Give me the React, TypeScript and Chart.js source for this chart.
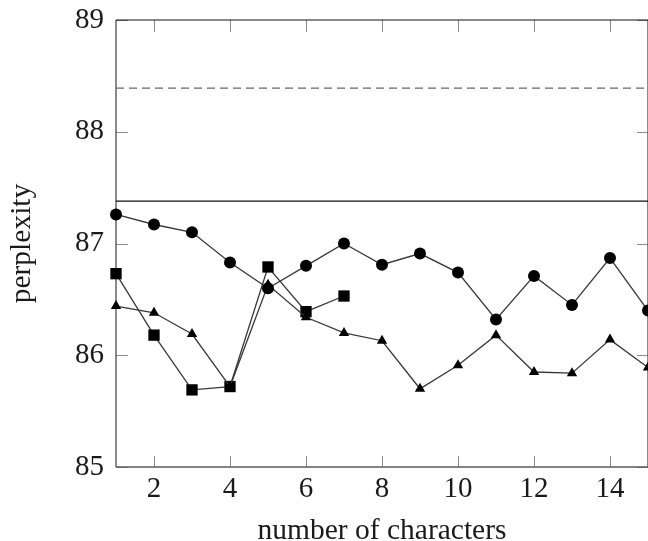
import React, { useEffect, useRef } from 'react';
import { Chart, registerables } from 'chart.js';

Chart.register(...registerables);

// ---- data ----
const characters = [1, 2, 3, 4, 5, 6, 7, 8, 9, 10, 11, 12, 13, 14, 15];
const circleSeries = [87.26, 87.17, 87.10, 86.83, 86.60, 86.80, 87.00, 86.81, 86.91, 86.74, 86.32, 86.71, 86.45, 86.87, 86.40];
const triangleSeries = [86.44, 86.38, 86.19, 85.72, 86.63, 86.34, 86.20, 86.13, 85.70, 85.91, 86.18, 85.85, 85.84, 86.14, 85.89];
const squareCharacters = [1, 2, 3, 4, 5, 6, 7];
const squareSeries = [86.73, 86.18, 85.69, 85.72, 86.79, 86.39, 86.53];
const solidBaseline = 87.38;
const dashedBaseline = 88.39;
const xRange = [1, 15];
const yRange = [85, 89];
const xTickValues = [2, 4, 6, 8, 10, 12, 14];
const yTickValues = [85, 86, 87, 88, 89];
const xTitle = 'number of characters';
const yTitle = 'perplexity';

const FONT = '"Liberation Serif", "Times New Roman", "DejaVu Serif", serif';
const CANVAS_W = 648;
const CANVAS_H = 560;

const framePlugin = {
  id: 'pgfFrame',
  beforeDatasetsDraw(chart: any) {
    const { ctx, chartArea, scales } = chart;
    const { left, right, top, bottom } = chartArea;
    const x = scales.x;
    const y = scales.y;
    const line = (x1: number, y1: number, x2: number, y2: number) => {
      ctx.beginPath();
      ctx.moveTo(x1, y1);
      ctx.lineTo(x2, y2);
      ctx.stroke();
    };
    ctx.save();
    ctx.strokeStyle = '#8c8c8c';
    ctx.lineWidth = 1;
    xTickValues.forEach((v) => {
      const px = Math.round(x.getPixelForValue(v)) + 0.5;
      line(px, bottom, px, bottom - 11);
      line(px, top, px, top + 12);
    });
    yTickValues.forEach((v) => {
      const py = Math.round(y.getPixelForValue(v)) + 0.5;
      line(left, py, left + 12, py);
      line(right, py, right - 11, py);
    });
    ctx.strokeStyle = '#5a5a5a';
    ctx.lineWidth = 1.4;
    line(left, top, left, bottom);
    line(left, bottom, right, bottom);
    line(right, top, right, bottom);
    ctx.strokeStyle = '#111';
    ctx.lineWidth = 1.2;
    line(left, top, right, top);
    ctx.restore();
  },
};

export default function App() {
  const canvasRef = useRef<HTMLCanvasElement | null>(null);

  useEffect(() => {
    if (!canvasRef.current) return;
    const lineColor = '#383838';
    const markerColor = '#000';
    const chart = new Chart(canvasRef.current, {
      type: 'line',
      data: {
        datasets: [
          {
            label: 'circles',
            data: characters.map((c, i) => ({ x: c, y: circleSeries[i] })),
            borderColor: lineColor,
            borderWidth: 1.3,
            pointStyle: 'circle',
            pointRadius: 6,
            pointBackgroundColor: markerColor,
            pointBorderColor: markerColor,
            pointBorderWidth: 0,
            tension: 0,
            clip: false,
          },
          {
            label: 'triangles',
            data: characters.map((c, i) => ({ x: c, y: triangleSeries[i] })),
            borderColor: lineColor,
            borderWidth: 1.3,
            pointStyle: 'triangle',
            pointRadius: 6,
            pointBackgroundColor: markerColor,
            pointBorderColor: markerColor,
            pointBorderWidth: 0,
            tension: 0,
            clip: false,
          },
          {
            label: 'squares',
            data: squareCharacters.map((c, i) => ({ x: c, y: squareSeries[i] })),
            borderColor: lineColor,
            borderWidth: 1.3,
            pointStyle: 'rect',
            pointRadius: 8,
            pointBackgroundColor: markerColor,
            pointBorderColor: markerColor,
            pointBorderWidth: 0,
            tension: 0,
            clip: false,
          },
          {
            label: 'solid baseline',
            data: [
              { x: xRange[0], y: solidBaseline },
              { x: xRange[1], y: solidBaseline },
            ],
            borderColor: '#111',
            borderWidth: 1.2,
            pointRadius: 0,
            tension: 0,
          },
          {
            label: 'dashed baseline',
            data: [
              { x: xRange[0], y: dashedBaseline },
              { x: xRange[1], y: dashedBaseline },
            ],
            borderColor: '#666',
            borderWidth: 1.4,
            borderDash: [8, 5],
            pointRadius: 0,
            tension: 0,
          },
        ],
      },
      options: {
        responsive: false,
        animation: false,
        devicePixelRatio: 1,
        layout: { autoPadding: false, padding: { top: 20, left: 0, right: 0, bottom: 0 } },
        plugins: {
          legend: { display: false },
          tooltip: { enabled: false },
        },
        scales: {
          x: {
            type: 'linear',
            min: xRange[0],
            max: xRange[1],
            afterBuildTicks: (axis: any) => {
              axis.ticks = xTickValues.map((v) => ({ value: v }));
            },
            afterFit: (scale: any) => {
              scale.height = CANVAS_H - 467;
              scale.paddingLeft = 0;
              scale.paddingRight = 0;
            },
            grid: { display: false, drawTicks: false },
            border: { display: false },
            ticks: {
              color: '#1a1a1a',
              font: { family: FONT, size: 29 },
              padding: 5,
              maxRotation: 0,
              autoSkip: false,
            },
            title: {
              display: true,
              text: xTitle,
              color: '#1a1a1a',
              font: { family: FONT, size: 29.5 },
              padding: { top: 0, bottom: 11 },
            },
          },
          y: {
            type: 'linear',
            min: yRange[0],
            max: yRange[1],
            afterBuildTicks: (axis: any) => {
              axis.ticks = yTickValues.map((v) => ({ value: v }));
            },
            afterFit: (scale: any) => {
              scale.width = 116;
              scale.paddingTop = 0;
              scale.paddingBottom = 0;
            },
            grid: { display: false, drawTicks: false },
            border: { display: false },
            ticks: {
              color: '#1a1a1a',
              font: { family: FONT, size: 29 },
              padding: 12,
            },
            title: {
              display: true,
              text: yTitle,
              color: '#1a1a1a',
              font: { family: FONT, size: 29.5 },
              padding: { top: 5, bottom: 0 },
            },
          },
        },
      },
      plugins: [framePlugin],
    } as any);
    return () => chart.destroy();
  }, []);

  return (
    <div
      style={{
        position: 'fixed',
        left: 0,
        top: 0,
        width: CANVAS_W,
        height: 541,
        overflow: 'hidden',
        background: '#fff',
      }}
    >
      <canvas ref={canvasRef} width={CANVAS_W} height={CANVAS_H} style={{ display: 'block' }} />
    </div>
  );
}
